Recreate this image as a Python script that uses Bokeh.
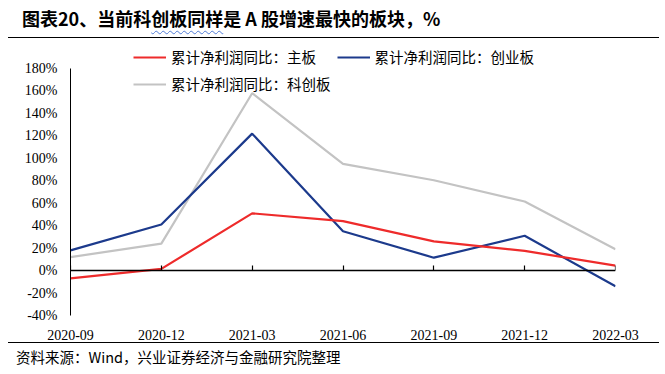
from bokeh.plotting import figure
from bokeh.models import (Range1d, FixedTicker, LinearAxis, PrintfTickFormatter,
                          Legend, LegendItem, Div)
from bokeh.layouts import column
from bokeh.embed import file_html
from bokeh.resources import INLINE

# ---- data -------------------------------------------------------------
dates = ["2020-09", "2020-12", "2021-03", "2021-06", "2021-09", "2021-12", "2022-03"]
main_board = [-7, 1.5, 51, 44, 26, 17.5, 4.5]        # 主板
chinext = [18, 41, 122, 35, 11.5, 31, -14]           # 创业板
star_market = [12, 24, 158, 95, 80.5, 61.5, 19]      # 科创板
y_ticks = [-40, -20, 0, 20, 40, 60, 80, 100, 120, 140, 160, 180]
series_names = ["累计净利润同比：主板", "累计净利润同比：创业板", "累计净利润同比：科创板"]
title_text = ("图表20、当前科", "创板同样", "是 A 股增速最快的板块，%")
source_text = "资料来源：Wind，兴业证券经济与金融研究院整理"

idx = list(range(len(dates)))

RED = "#EE2B2B"
BLUE = "#1C3A8C"
GREY = "#C3C3C3"
CJK = "Noto Sans CJK SC"
SERIF = "Liberation Serif"

# ---- figure -----------------------------------------------------------
# extra head-room above 180% so that the legend sits inside the frame
p = figure(width=651, height=304, output_backend="svg", toolbar_location=None,
           x_range=Range1d(idx[0], idx[-1]), y_range=Range1d(y_ticks[0], 200.5),
           min_border_left=62, min_border_right=44, min_border_top=7,
           min_border_bottom=26, background_fill_color="white",
           border_fill_color="white")
p.outline_line_color = None
p.grid.visible = False

# bottom axis: labels only
xb = p.xaxis[0]
xb.ticker = FixedTicker(ticks=idx)
xb.major_label_overrides = {i: d for i, d in zip(idx, dates)}
xb.axis_line_color = None
xb.major_tick_line_color = None
xb.minor_tick_line_color = None
xb.major_label_standoff = 8
xb.major_label_text_font = SERIF
xb.major_label_text_font_size = "14px"
xb.major_label_text_color = "black"

# axis line at y = 0 with inside ticks
x0 = LinearAxis(fixed_location=0, ticker=FixedTicker(ticks=idx),
                major_tick_in=5, major_tick_out=0,
                minor_tick_line_color=None,
                axis_line_color="black", axis_line_width=1.5,
                major_tick_line_color="black", major_tick_line_width=1.2,
                major_label_text_color=None, major_label_standoff=0)
p.add_layout(x0, "below")

# y axis
ya = p.yaxis[0]
ya.ticker = FixedTicker(ticks=y_ticks)
ya.bounds = (y_ticks[0], y_ticks[-1])
ya.formatter = PrintfTickFormatter(format="%d%%")
ya.axis_line_color = "black"
ya.axis_line_width = 1
ya.major_tick_in = 0
ya.major_tick_out = 0
ya.minor_tick_line_color = None
ya.major_label_standoff = 13
ya.major_label_text_font = SERIF
ya.major_label_text_font_size = "14px"
ya.major_label_text_color = "black"

# lines
r_star = p.line(idx, star_market, line_color=GREY, line_width=2.2)
r_cy = p.line(idx, chinext, line_color=BLUE, line_width=2.2)
r_main = p.line(idx, main_board, line_color=RED, line_width=2.2)

legend = Legend(items=[LegendItem(label=series_names[0], renderers=[r_main]),
                       LegendItem(label=series_names[1], renderers=[r_cy]),
                       LegendItem(label=series_names[2], renderers=[r_star])],
                location=(63, 221), orientation="horizontal", ncols=2,
                padding=0, margin=0, spacing=6, label_standoff=5,
                glyph_width=33, glyph_height=20, label_height=20,
                label_text_font=CJK, label_text_font_size="14.5px",
                label_text_color="black",
                border_line_color=None, background_fill_alpha=0)
p.add_layout(legend)

# ---- title / source -----------------------------------------------------
title_html = (
    '<div style="box-sizing:border-box;width:651px;height:30px;'
    'border-bottom:1.6px solid #000;padding-left:14px;padding-top:0px;'
    'line-height:20px;font-family:\'Noto Sans CJK SC\';font-weight:bold;'
    'font-size:18px;color:#000;white-space:nowrap;">'
    + title_text[0]
    + '<span style="text-decoration:underline wavy #4F7BD6;'
      'text-decoration-thickness:1px;text-underline-offset:4px;">'
    + title_text[1] + '</span>' + title_text[2] + '</div>'
)
title_div = Div(text=title_html, width=651, height=30, margin=0)

source_html = (
    '<div style="box-sizing:border-box;width:651px;height:24px;'
    'border-top:1.6px solid #000;padding-left:8px;padding-top:4px;'
    'line-height:20px;font-family:\'Noto Sans CJK SC\';'
    'font-size:14.5px;color:#000;white-space:nowrap;">'
    + source_text + '</div>'
)
source_div = Div(text=source_html, width=651, height=24, margin=0)

layout = column(title_div, p, source_div, spacing=0, margin=(8, 6, 0, 8))

with open("out.html", "w") as f:
    f.write(file_html(layout, INLINE))
